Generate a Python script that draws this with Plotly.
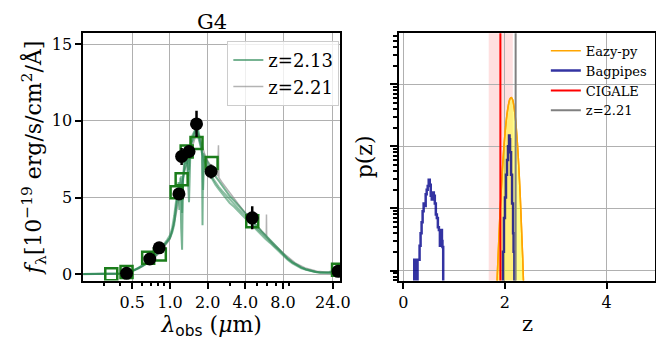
import plotly.graph_objects as go

# --- left panel: SED ---
lam = [0.20, 0.25, 0.30, 0.35, 0.40, 0.44, 0.48, 0.52, 0.56, 0.60, 0.65, 0.70, 0.75, 0.80, 0.85,
       0.90, 0.95, 1.00, 1.04, 1.08, 1.11, 1.14, 1.17, 1.19, 1.21, 1.23, 1.25, 1.27, 1.30, 1.33,
       1.36, 1.38, 1.40, 1.42, 1.45, 1.48, 1.52, 1.56, 1.60, 1.64, 1.68, 1.72, 1.76, 1.80, 1.82,
       1.84, 1.88, 1.94, 2.00, 2.08, 2.18, 2.30, 2.45, 2.60, 2.80, 3.00, 3.25, 3.50, 3.80, 4.10,
       4.40, 4.70, 5.00, 5.40, 5.80, 6.30, 6.80, 7.40, 8.00, 8.70, 9.50, 10.3, 11.2, 12.2, 13.3,
       14.5, 15.8, 17.2, 18.7, 20.0, 21.0, 22.0, 23.0]
spec_a = [0.02, 0.02, 0.03, 0.03, 0.05, 0.08, 0.15, 0.28, 0.40, 0.55, 0.72, 0.95, 1.15, 1.40, 1.65,
          1.90, 2.15, 2.40, 2.80, 3.40, 4.20, 5.00, 5.50, 4.20, 5.80, 3.00, 1.60, 6.20, 6.80, 7.20,
          7.60, 6.90, 5.50, 4.70, 7.50, 8.40, 8.90, 9.20, 9.50, 9.70, 9.40, 9.00, 8.60, 8.20, 3.20,
          7.90, 7.70, 7.50, 7.30, 7.00, 6.70, 6.40, 6.10, 5.80, 5.40, 5.10, 4.80, 4.50, 4.20, 3.90,
          3.60, 3.35, 3.10, 2.80, 2.55, 2.25, 1.95, 1.65, 1.35, 1.05, 0.80, 0.62, 0.45, 0.33, 0.24,
          0.17, 0.13, 0.12, 0.15, 0.22, 0.20, 0.15, 0.12]
spec_b = [0.02, 0.02, 0.03, 0.04, 0.06, 0.10, 0.18, 0.30, 0.42, 0.58, 0.78, 1.00, 1.22, 1.48, 1.72,
          1.98, 2.25, 2.55, 3.00, 3.80, 4.60, 5.40, 6.00, 5.00, 6.30, 4.80, 5.60, 6.60, 7.30, 7.80,
          8.10, 7.40, 6.40, 7.60, 8.20, 8.80, 9.10, 9.30, 9.45, 9.30, 9.00, 8.70, 8.30, 7.90, 7.70,
          5.50, 7.50, 7.20, 6.90, 6.60, 6.30, 6.00, 5.70, 5.45, 5.15, 4.85, 4.55, 4.30, 4.00, 3.70,
          3.45, 3.20, 2.95, 2.70, 2.42, 2.15, 1.85, 1.58, 1.30, 1.02, 0.78, 0.60, 0.44, 0.32, 0.23,
          0.16, 0.12, 0.10, 0.10, 0.12, 0.11, 0.09, 0.08]
spec_c = [0.01, 0.02, 0.02, 0.03, 0.05, 0.09, 0.16, 0.26, 0.38, 0.52, 0.70, 0.90, 1.10, 1.35, 1.60,
          1.85, 2.10, 2.35, 2.70, 3.20, 4.00, 4.80, 5.30, 6.00, 5.20, 6.40, 4.00, 6.00, 7.00, 7.60,
          7.20, 8.00, 7.60, 6.80, 8.00, 8.60, 8.70, 9.00, 9.20, 9.60, 9.10, 8.80, 8.40, 8.10, 7.80,
          7.60, 7.40, 7.10, 6.80, 6.50, 6.20, 5.85, 5.55, 5.30, 4.95, 4.65, 4.40, 4.15, 3.85, 3.55,
          3.30, 3.05, 2.85, 2.58, 2.30, 2.05, 1.78, 1.50, 1.22, 0.95, 0.72, 0.55, 0.40, 0.29, 0.21,
          0.15, 0.11, 0.09, 0.08, 0.10, 0.09, 0.07, 0.06]

gray_lam = [0.20, 0.30, 0.40, 0.50, 0.60, 0.70, 0.80, 0.90, 1.00, 1.10, 1.20, 1.30, 1.40, 1.50,
            1.60, 1.70, 1.80, 1.90, 2.00, 2.20, 2.40, 2.44, 2.46, 2.60, 3.00, 3.50, 4.00, 4.50,
            5.00, 5.50, 5.88, 5.90, 5.92, 6.50, 8.00, 10.0, 12.0, 15.0, 18.0, 21.0, 23.0]
gray_flux = [0.02, 0.03, 0.05, 0.22, 0.50, 0.85, 1.30, 1.80, 2.30, 3.60, 5.20, 6.70, 7.40, 8.30,
             9.00, 9.10, 8.40, 7.80, 7.40, 6.90, 6.40, 8.40, 6.30, 6.00, 5.30, 4.60, 4.00, 3.55,
             3.15, 2.75, 2.50, 3.90, 2.45, 2.10, 1.40, 0.75, 0.42, 0.20, 0.14, 0.16, 0.11]

obs_lam = [0.45, 0.69, 0.82, 1.18, 1.24, 1.42, 1.63, 2.13, 4.54, 22.0]
obs_flux = [0.07, 1.00, 1.73, 5.24, 7.68, 8.00, 9.80, 6.70, 3.68, 0.20]
obs_err = [0.05, 0.15, 0.20, 0.30, 0.55, 0.40, 0.85, 0.45, 0.75, 0.15]

mod_lam = [0.34, 0.45, 0.67, 0.83, 1.13, 1.24, 1.36, 1.63, 2.15, 4.54, 22.0]
mod_flux = [0.00, 0.15, 1.08, 1.30, 5.35, 6.20, 8.00, 8.55, 7.25, 3.46, 0.30]

sed_ticks = [0.5, 1, 2, 4, 8, 20]
sed_ticktext = ["0.5", "1.0", "2.0", "4.0", "8.0", "24.0"]
sed_minor = [0.3, 0.4, 0.6, 0.7, 0.8, 0.9, 3, 5, 6, 7, 9]

# --- right panel: p(z) ---
eazy_z = [1.80, 1.85, 1.90, 1.95, 2.00, 2.05, 2.10, 2.125, 2.15, 2.20, 2.25, 2.30, 2.35, 2.40]
eazy_p = [6.6e-5, 8.8e-4, 7.7e-3, 4.3e-2, 0.158, 0.375, 0.584, 0.61, 0.566, 0.313, 0.0966,
          0.0164, 0.00155, 7.9e-5]

bag_z = [0.20, 0.215, 0.235, 0.24, 0.27, 0.28, 0.30, 0.32, 0.34, 0.36, 0.38, 0.40, 0.42, 0.44,
         0.46, 0.48, 0.50, 0.52, 0.54, 0.56, 0.58, 0.60, 0.62, 0.64, 0.66, 0.68, 0.70, 0.72, 0.74,
         0.76, 0.77, 0.785, None,
         1.93, 1.96, 1.98, 2.00, 2.02, 2.04, 2.06, 2.08, 2.09, 2.10, 2.12, 2.14, 2.16, 2.17, 2.185]
bag_p = [1e-4, 1.5e-3, 1.5e-3, 1e-4, 1e-4, 1.5e-3, 1.5e-3, 2.5e-3, 4e-3, 6e-3, 9e-3, 1.2e-2,
         1.1e-2, 1.7e-2, 2.0e-2, 2.3e-2, 2.9e-2, 2.4e-2, 1.6e-2, 1.4e-2, 1.8e-2, 1.6e-2, 1.2e-2,
         8e-3, 7e-3, 5e-3, 4.5e-3, 2.5e-3, 4.5e-3, 3e-3, 2.4e-3, 1e-4, None,
         1e-4, 2e-3, 7e-3, 1.5e-2, 3.5e-2, 6e-2, 0.10, 0.15, 0.13, 0.08, 3.5e-2, 1.2e-2, 4e-3,
         2e-3, 1e-4]

cigale_z = 1.91
cigale_lo = 1.68
cigale_hi = 2.155
spec_z = 2.21

SERIF = "DejaVu Serif"

fig = go.Figure()

# SED model spectra
fig.add_trace(go.Scatter(x=gray_lam, y=gray_flux, mode="lines", name="z=2.21",
                         line=dict(color="rgba(128,128,128,0.6)", width=1.5),
                         xaxis="x", yaxis="y", legend="legend", legendrank=2))
for spec in (spec_b, spec_c):
    fig.add_trace(go.Scatter(x=lam, y=spec, mode="lines", showlegend=False,
                             line=dict(color="rgba(46,139,87,0.55)", width=2),
                             xaxis="x", yaxis="y"))
fig.add_trace(go.Scatter(x=lam, y=spec_a, mode="lines", name="z=2.13",
                         line=dict(color="rgba(46,139,87,0.65)", width=2),
                         xaxis="x", yaxis="y", legend="legend", legendrank=1))
# photometry
fig.add_trace(go.Scatter(x=mod_lam, y=mod_flux, mode="markers", showlegend=False,
                         marker=dict(symbol="square-open", size=12, color="#1b7d1b",
                                     line=dict(width=2.5)),
                         xaxis="x", yaxis="y"))
fig.add_trace(go.Scatter(x=obs_lam, y=obs_flux, mode="markers", showlegend=False,
                         marker=dict(symbol="circle", size=13, color="black"),
                         error_y=dict(type="data", array=obs_err, color="black",
                                      thickness=2.5, width=0),
                         xaxis="x", yaxis="y"))

# p(z)
fig.add_trace(go.Scatter(x=eazy_z, y=eazy_p, mode="lines", showlegend=False,
                         line=dict(color="#ffa500", width=1.5, shape="spline"),
                         fill="toself", fillcolor="rgba(255,255,0,0.45)",
                         xaxis="x2", yaxis="y2"))
fig.add_trace(go.Scatter(x=eazy_z, y=eazy_p, mode="lines", name="Eazy-py",
                         line=dict(color="#ffa500", width=1.5, shape="spline"),
                         xaxis="x2", yaxis="y2", legend="legend2", legendrank=1))
fig.add_trace(go.Scatter(x=bag_z, y=bag_p, mode="lines", name="Bagpipes",
                         line=dict(color="rgba(0,0,139,0.8)", width=2.5, shape="hv"),
                         connectgaps=False,
                         xaxis="x2", yaxis="y2", legend="legend2", legendrank=2))

fig.add_shape(type="rect", xref="x2", yref="y2 domain", x0=cigale_lo, x1=cigale_hi, y0=0, y1=1,
              fillcolor="rgba(255,0,0,0.12)", line=dict(width=0), layer="below")
fig.add_shape(type="line", xref="x2", yref="y2 domain", x0=cigale_z, x1=cigale_z, y0=0, y1=1,
              line=dict(color="red", width=2), name="CIGALE", showlegend=True,
              legend="legend2", legendrank=3)
fig.add_shape(type="line", xref="x2", yref="y2 domain", x0=spec_z, x1=spec_z, y0=0, y1=1,
              line=dict(color="gray", width=2), name="z=2.21", showlegend=True,
              legend="legend2", legendrank=4)

axis_common = dict(showline=True, mirror=True, linecolor="black", linewidth=2,
                   gridcolor="#b0b0b0", gridwidth=1, zeroline=False, automargin=False,
                   ticks="outside", ticklen=6, tickwidth=1.5, tickcolor="black",
                   tickfont=dict(family=SERIF, size=16, color="black"))

# the page puts the plot 8px in from the top-left corner, so domains are shifted by that
fig.update_layout(
    width=664, height=346,
    margin=dict(l=0, r=0, t=0, b=0, autoexpand=False),
    paper_bgcolor="white", plot_bgcolor="white",
    font=dict(family=SERIF, color="black"),
    xaxis=dict(axis_common, type="log", domain=[0.1134, 0.5], anchor="y",
               range=[-0.692, 1.358], tickmode="array", tickvals=sed_ticks,
               ticktext=sed_ticktext,
               minor=dict(tickmode="array", tickvals=sed_minor, ticks="outside",
                          ticklen=3, tickcolor="black", showgrid=False),
               title=dict(text="<i>λ</i><sub><span style='font-family:DejaVu Sans'>obs</span></sub> (<i>μ</i>m)",
                          font=dict(size=22), standoff=2)),
    yaxis=dict(axis_common, domain=[0.2124, 0.9269], anchor="x", range=[-0.4, 15.7],
               tickmode="array", tickvals=[0, 5, 10, 15],
               title=dict(text="<i>f</i><sub>λ</sub>[10<sup>−19</sup> erg/s/cm<sup>2</sup>/Å]",
                          font=dict(size=22), standoff=4)),
    xaxis2=dict(axis_common, domain=[0.5896, 0.975], anchor="y2", range=[-0.075, 4.96],
                tickmode="array", tickvals=[0, 2, 4],
                title=dict(text="z", font=dict(size=21), standoff=6)),
    yaxis2=dict(axis_common, type="log", domain=[0.2124, 0.9269], anchor="x2",
                range=[-3.16, 0.82], dtick=1, showticklabels=False, ticklen=7,
                minor=dict(ticks="outside", ticklen=4, dtick="D1", tickcolor="black",
                           showgrid=False),
                title=dict(text="p(z)", font=dict(size=22), standoff=12)),
    legend=dict(x=0.499, y=0.905, xanchor="right", yanchor="top",
                bgcolor="rgba(255,255,255,0.8)", bordercolor="#cccccc", borderwidth=1,
                font=dict(family=SERIF, size=18), tracegroupgap=0),
    legend2=dict(x=0.81, y=0.92, xanchor="left", yanchor="top",
                 bgcolor="rgba(255,255,255,0)", borderwidth=0,
                 font=dict(family=SERIF, size=13), tracegroupgap=0),
    annotations=[dict(text="G4", x=0.3065, y=1.0, xref="paper", yref="paper",
                      xanchor="center", yanchor="top", showarrow=False,
                      font=dict(family=SERIF, size=21))],
)

fig.write_html("out.html")
